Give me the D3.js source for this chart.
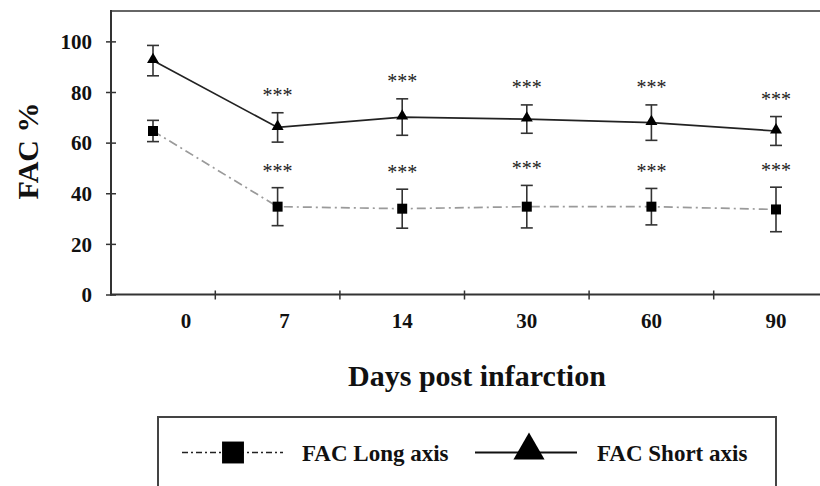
<!DOCTYPE html>
<html>
<head>
<meta charset="utf-8">
<script src="https://cdn.jsdelivr.net/npm/d3@7"></script>
<style>
  html, body { margin: 0; padding: 0; background: #fff; }
  svg { display: block; }
  text { font-family: "Liberation Serif", "Times New Roman", serif; }
</style>
</head>
<body>
<script>
// ---------- data ----------
const days = ["0", "7", "14", "30", "60", "90"];
const longMean = [64.6, 34.7, 33.9, 34.7, 34.7, 33.6];
const longErr  = [4.2, 7.5, 7.7, 8.4, 7.2, 8.8];
const shortMean = [92.4, 66.0, 70.1, 69.3, 67.9, 64.6];
const shortErr  = [6.0, 5.8, 7.2, 5.6, 7.0, 5.7];
const signif = ["", "***", "***", "***", "***", "***"];
const yTicks = [0, 20, 40, 60, 80, 100];
const seriesNames = ["FAC Long axis", "FAC Short axis"];

// ---------- layout ----------
const W = 820, H = 486;
const frame = { left: 111, right: 820, top: 11, bottom: 294.5 };
const FONT = "Liberation Serif, Times New Roman, serif";

const svg = d3.select("body").append("svg")
  .attr("width", W).attr("height", H);

const x = d3.scalePoint().domain(days).range([153, 776]);
const y = d3.scaleLinear().domain([0, 112]).range([frame.bottom, frame.top]);

const axisColor = "#333";

// top border
svg.append("line")
  .attr("x1", frame.left).attr("x2", frame.right)
  .attr("y1", frame.top).attr("y2", frame.top)
  .attr("stroke", "#666").attr("stroke-width", 2);

// Y axis
const yAxis = svg.append("g")
  .attr("transform", `translate(${frame.left},0)`)
  .call(d3.axisLeft(y).tickValues(yTicks).tickSize(5).tickPadding(14));
yAxis.attr("font-family", FONT);
yAxis.select(".domain").remove();
yAxis.selectAll(".tick line").attr("x1", -5).attr("x2", 5)
  .attr("stroke", axisColor).attr("stroke-width", 1.5);
yAxis.selectAll(".tick text")
  .attr("font-family", FONT)
  .attr("font-weight", "bold").attr("font-size", 21).attr("fill", "#111")
  .attr("dy", "0.35em");
svg.append("line")
  .attr("x1", frame.left).attr("x2", frame.left)
  .attr("y1", frame.top - 1).attr("y2", frame.bottom + 1)
  .attr("stroke", axisColor).attr("stroke-width", 2);

// X axis: tick marks between categories, labels under categories
const step = x.step();
const boundaries = days.slice(0, -1).map(d => x(d) + step / 2);
svg.append("g").selectAll("line").data(boundaries).join("line")
  .attr("x1", d => d).attr("x2", d => d)
  .attr("y1", frame.bottom - 4).attr("y2", frame.bottom + 5)
  .attr("stroke", axisColor).attr("stroke-width", 1.5);
svg.append("line")
  .attr("x1", frame.left - 1).attr("x2", frame.right)
  .attr("y1", frame.bottom).attr("y2", frame.bottom)
  .attr("stroke", axisColor).attr("stroke-width", 2);

const labelShift = { "0": 33, "7": 7 };
svg.append("g").selectAll("text").data(days).join("text")
  .attr("x", d => x(d) + (labelShift[d] || 0))
  .attr("y", 328)
  .attr("text-anchor", "middle")
  .attr("font-family", FONT)
  .attr("font-weight", "bold").attr("font-size", 21).attr("fill", "#111")
  .text(d => d);

// axis titles
svg.append("text")
  .attr("transform", "translate(38,151) rotate(-90)")
  .attr("text-anchor", "middle")
  .attr("font-family", FONT)
  .attr("font-weight", "bold").attr("font-size", 30).attr("fill", "#111")
  .text("FAC %");
svg.append("text")
  .attr("x", 477).attr("y", 386)
  .attr("text-anchor", "middle")
  .attr("font-family", FONT)
  .attr("font-weight", "bold").attr("font-size", 30).attr("fill", "#111")
  .text("Days post infarction");

// ---------- series ----------
function makeRows(mean, err) {
  return days.map((d, i) => ({ day: d, v: mean[i], e: err[i], s: signif[i] }));
}
const longRows = makeRows(longMean, longErr);
const shortRows = makeRows(shortMean, shortErr);

const line = d3.line().x(d => x(d.day)).y(d => y(d.v));

svg.append("path").datum(longRows)
  .attr("d", line).attr("fill", "none")
  .attr("stroke", "#9a9a9a").attr("stroke-width", 1.7)
  .attr("stroke-dasharray", "9,4,2,4");
svg.append("path").datum(shortRows)
  .attr("d", line).attr("fill", "none")
  .attr("stroke", "#222").attr("stroke-width", 1.7);

function errorBars(rows) {
  const g = svg.append("g").attr("stroke", "#333").attr("stroke-width", 1.6);
  g.selectAll("line.v").data(rows).join("line").attr("class", "v")
    .attr("x1", d => x(d.day)).attr("x2", d => x(d.day))
    .attr("y1", d => y(d.v + d.e)).attr("y2", d => y(d.v - d.e));
  g.selectAll("line.t").data(rows).join("line").attr("class", "t")
    .attr("x1", d => x(d.day) - 6).attr("x2", d => x(d.day) + 6)
    .attr("y1", d => y(d.v + d.e)).attr("y2", d => y(d.v + d.e));
  g.selectAll("line.b").data(rows).join("line").attr("class", "b")
    .attr("x1", d => x(d.day) - 6).attr("x2", d => x(d.day) + 6)
    .attr("y1", d => y(d.v - d.e)).attr("y2", d => y(d.v - d.e));
}
errorBars(longRows);
errorBars(shortRows);

const sq = d3.symbol().type(d3.symbolSquare).size(100);
const tri = d3.symbol().type(d3.symbolTriangle).size(62);

svg.append("g").selectAll("path").data(longRows).join("path")
  .attr("transform", d => `translate(${x(d.day)},${y(d.v)})`)
  .attr("d", sq).attr("fill", "#000");
svg.append("g").selectAll("path").data(shortRows).join("path")
  .attr("transform", d => `translate(${x(d.day)},${y(d.v) - 1})`)
  .attr("d", tri).attr("fill", "#000");

// significance stars
function stars(rows, gap) {
  svg.append("g").selectAll("text").data(rows.filter(d => d.s)).join("text")
    .attr("x", d => x(d.day)).attr("y", d => y(d.v + d.e) - gap)
    .attr("text-anchor", "middle")
    .attr("font-family", FONT)
    .attr("font-size", 20).attr("fill", "#222")
    .text(d => d.s);
}
stars(longRows, 10);
stars(shortRows, 11);

// ---------- legend ----------
const lg = svg.append("g");
lg.append("rect")
  .attr("x", 158).attr("y", 417).attr("width", 618).attr("height", 90)
  .attr("fill", "none").attr("stroke", "#444").attr("stroke-width", 2);
const ly = 452.5;
lg.append("line").attr("x1", 182).attr("x2", 283).attr("y1", ly).attr("y2", ly)
  .attr("stroke", "#222").attr("stroke-width", 1.6).attr("stroke-dasharray", "6,3,2,3");
lg.append("path").attr("transform", `translate(233,${ly})`)
  .attr("d", d3.symbol().type(d3.symbolSquare).size(480)).attr("fill", "#000");
lg.append("text").attr("x", 302).attr("y", ly + 8)
  .attr("font-family", FONT)
  .attr("font-weight", "bold").attr("font-size", 23).attr("fill", "#111")
  .text(seriesNames[0]);
lg.append("line").attr("x1", 475).attr("x2", 577).attr("y1", ly).attr("y2", ly)
  .attr("stroke", "#111").attr("stroke-width", 2);
lg.append("path").attr("transform", `translate(529,${ly - 2})`)
  .attr("d", d3.symbol().type(d3.symbolTriangle).size(420)).attr("fill", "#000");
lg.append("text").attr("x", 597).attr("y", ly + 8)
  .attr("font-family", FONT)
  .attr("font-weight", "bold").attr("font-size", 23).attr("fill", "#111")
  .text(seriesNames[1]);
</script>
</body>
</html>
